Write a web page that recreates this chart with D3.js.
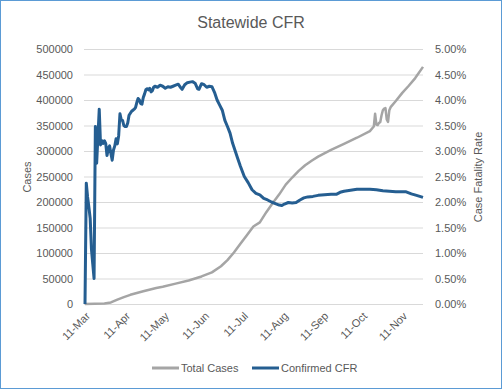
<!DOCTYPE html>
<html>
<head>
<meta charset="utf-8">
<script src="https://cdn.jsdelivr.net/npm/d3@7"></script>
<style>
  body { margin: 0; background: #fff; }
  text { font-family: "Liberation Sans", Arial, sans-serif; fill: #595959; }
</style>
</head>
<body>
<div id="app"></div>
<script>
// day offsets from 11 March 2020
const startDate = new Date(2020, 2, 11)
const endDate = new Date(2020, 10, 27)

const casesDays = [0, 15, 20, 25, 30, 35, 45, 55, 60, 70, 80, 90, 98, 105, 110, 115, 120, 125, 130, 135,
  140, 145, 150, 155, 160, 165, 170, 175, 180, 190, 200, 210, 220, 222, 223, 224, 225, 226, 227, 228,
  229, 230, 231, 232, 233, 234, 235, 236, 240, 245, 250, 255, 261]
const casesValues = [0, 800, 3000, 8500, 13500, 18000, 25000, 31500, 34000, 40000, 46000, 54000, 62000, 74000, 86000, 101000, 118000, 135000, 152000, 160000,
  180000, 198000, 215000, 234000, 248000, 261000, 272000, 281000, 289000, 302000, 314000, 326000, 339000, 345000, 348000, 373000, 352000, 351000, 355000, 357000,
  370000, 380000, 383000, 384000, 362000, 357000, 380000, 386000, 398000, 414000, 428000, 443000, 465000]

const cfrDays = [0, 1, 2, 3, 4, 5, 6, 7, 8, 9, 10, 11, 12, 13, 14, 15, 16, 17, 18, 19,
  20, 21, 22, 23, 24, 25, 26, 27, 28, 29, 30, 31, 32, 33, 34, 35, 36, 37, 38, 39,
  40, 41, 42, 43, 44, 45, 46, 47, 48, 49, 50, 51, 52, 53, 54, 56, 58, 60, 62, 64,
  66, 68, 70, 72, 74, 75, 77, 79, 81, 83, 85, 87, 88, 90, 92, 94, 96, 98, 100, 102,
  104, 106, 108, 110, 112, 114, 116, 118, 120, 123, 126, 129, 132, 135, 138, 141, 144, 147, 150, 152,
  154, 157, 160, 163, 166, 169, 172, 176, 180, 185, 190, 194, 197, 200, 205, 210, 215, 220, 225, 230,
  235, 240, 245, 248, 252, 256, 261]
const cfrValues = [0, 2.37, 2.1, 1.9, 1.68, 1.07, 0.78, 0.5, 3.48, 2.76, 3.3, 3.82, 3.12, 3.2, 3.15, 3.2, 3.15, 2.91, 3.05, 3.1,
  2.95, 2.82, 3.02, 3.1, 3.24, 3.14, 3.3, 3.73, 3.61, 3.6, 3.5, 3.48, 3.48, 3.55, 3.7, 3.74, 3.78, 3.8, 3.82, 3.85,
  3.95, 4.03, 4.0, 3.93, 3.92, 4.05, 4.12, 4.2, 4.22, 4.2, 4.23, 4.16, 4.18, 4.25, 4.27, 4.25, 4.29, 4.27, 4.23, 4.26,
  4.25, 4.27, 4.29, 4.31, 4.24, 4.21, 4.3, 4.34, 4.35, 4.36, 4.33, 4.22, 4.21, 4.32, 4.3, 4.25, 4.27, 4.26, 4.15, 4.0,
  3.9, 3.8, 3.6, 3.48, 3.35, 3.15, 3.0, 2.85, 2.7, 2.5, 2.38, 2.24, 2.17, 2.14, 2.07, 2.04, 2.0, 1.97, 1.94, 1.93,
  1.96, 1.99, 1.98, 1.99, 2.04, 2.08, 2.1, 2.11, 2.13, 2.14, 2.15, 2.15, 2.19, 2.21, 2.23, 2.25, 2.25, 2.25, 2.24, 2.22,
  2.21, 2.2, 2.2, 2.2, 2.16, 2.13, 2.09]

const casesTicks = [0, 50000, 100000, 150000, 200000, 250000, 300000, 350000, 400000, 450000, 500000]
const cfrTicks = [0, 0.5, 1, 1.5, 2, 2.5, 3, 3.5, 4, 4.5, 5]
const monthTicks = ['Mar', 'Apr', 'May', 'Jun', 'Jul', 'Aug', 'Sep', 'Oct', 'Nov']

const W = 502, H = 389
const blue = '#255E91', grey = '#A5A5A5'

const svg = d3.create('svg').attr('width', W).attr('height', H)
d3.select('#app').append(() => svg.node())

svg.append('rect')
  .attr('x', 0.5).attr('y', 0.5).attr('width', W - 1).attr('height', H - 1)
  .attr('fill', '#fff').attr('stroke', '#5B9BD5')

const x = d3.scaleTime().domain([startDate, endDate]).range([85, 423])
const yCases = d3.scaleLinear().domain([0, 500000]).range([304, 49])
const yCfr = d3.scaleLinear().domain([0, 5]).range([304, 49])

const day = d => d3.timeDay.offset(startDate, d)

// gridlines + left labels
const left = svg.append('g')
  .attr('transform', 'translate(84,0)')
  .call(d3.axisLeft(yCases).tickValues(casesTicks).tickSize(-339).tickPadding(11).tickFormat(d3.format('d')))
left.select('.domain').remove()
left.selectAll('line').attr('stroke', '#D9D9D9')
left.selectAll('text').style('font-size', '11px').attr('fill', '#595959')

const right = svg.append('g')
  .attr('transform', 'translate(423,0)')
  .call(d3.axisRight(yCfr).tickValues(cfrTicks).tickSize(0).tickPadding(12).tickFormat(d => d.toFixed(2) + '%'))
right.select('.domain').remove()
right.selectAll('text').style('font-size', '11px').attr('fill', '#595959')

// x axis labels
const monthDates = monthTicks.map((m, i) => new Date(2020, 2 + i, 11))
svg.append('g').selectAll('text')
  .data(monthDates)
  .join('text')
  .attr('transform', d => `translate(${x(d) + 3},${314}) rotate(-45)`)
  .attr('text-anchor', 'end')
  .attr('dy', '0.35em')
  .style('font-size', '11px')
  .text((d, i) => '11-' + monthTicks[i])

// lines
const casesLine = d3.line()
  .x((d, i) => x(day(casesDays[i])))
  .y(d => yCases(d))
svg.append('path')
  .datum(casesValues)
  .attr('d', casesLine)
  .attr('fill', 'none').attr('stroke', grey).attr('stroke-width', 2.5).attr('stroke-linejoin', 'round')

const cfrLine = d3.line()
  .x((d, i) => x(day(cfrDays[i])))
  .y(d => yCfr(d))
svg.append('path')
  .datum(cfrValues)
  .attr('d', cfrLine)
  .attr('fill', 'none').attr('stroke', blue).attr('stroke-width', 3).attr('stroke-linejoin', 'round')

// titles
svg.append('text')
  .attr('x', 251).attr('y', 28).attr('text-anchor', 'middle')
  .style('font-size', '16px')
  .text('Statewide CFR')

svg.append('text')
  .attr('transform', 'translate(31,177) rotate(-90)')
  .attr('text-anchor', 'middle')
  .style('font-size', '11px')
  .text('Cases')

svg.append('text')
  .attr('transform', 'translate(482,177) rotate(-90)')
  .attr('text-anchor', 'middle')
  .style('font-size', '11px')
  .text('Case Fatality Rate')

// legend
const legend = [['Total Cases', grey, 152], ['Confirmed CFR', blue, 252]]
const lg = svg.append('g').selectAll('g')
  .data(legend)
  .join('g')
  .attr('transform', d => `translate(${d[2]},368)`)
lg.append('line')
  .attr('x1', 0).attr('x2', 27)
  .attr('stroke', d => d[1]).attr('stroke-width', 3)
lg.append('text')
  .attr('x', 29).attr('dy', '0.35em')
  .style('font-size', '11px')
  .text(d => d[0])
</script>
</body>
</html>
